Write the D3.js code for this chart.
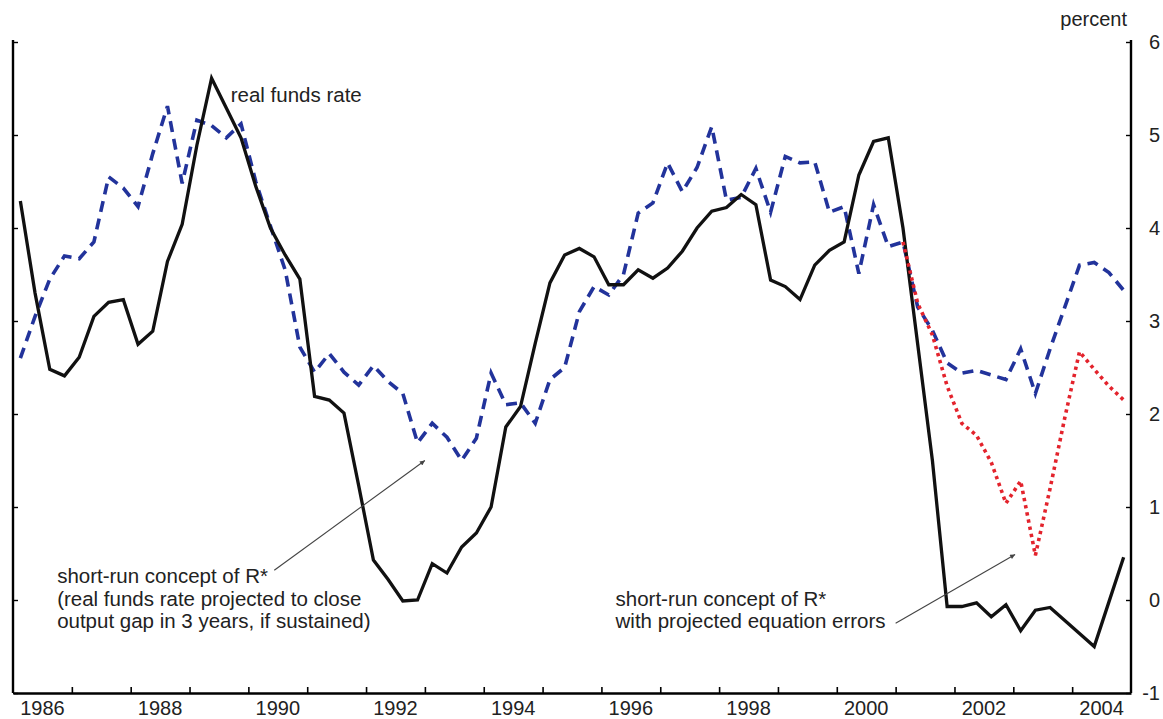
<!DOCTYPE html>
<html>
<head>
<meta charset="utf-8">
<title>real funds rate and short-run R*</title>
<script src="https://cdn.jsdelivr.net/npm/d3@7"></script>
<style>
  body { margin: 0; background: #fff; }
  text { font-family: "Liberation Sans", Arial, sans-serif; fill: #222; }
</style>
</head>
<body>
<div id="chart"></div>
<script>
// quarterly data, 1986Q1 .. 2004Q4
var firstYear = 1986;

var realFunds = [
  4.29, 3.30, 2.48, 2.41, 2.61, 3.05, 3.20, 3.23,   // 1986-87
  2.75, 2.89, 3.64, 4.04, 4.89, 5.61, 5.29, 4.97,   // 1988-89
  4.45, 4.00, 3.71, 3.45, 2.19, 2.15, 2.01, 1.23,   // 1990-91
  0.43, 0.22, -0.01, 0.00, 0.39, 0.29, 0.57, 0.72,  // 1992-93
  1.00, 1.86, 2.08, 2.76, 3.41, 3.71, 3.78, 3.69,   // 1994-95
  3.39, 3.39, 3.55, 3.46, 3.57, 3.75, 4.00, 4.18,   // 1996-97
  4.22, 4.36, 4.25, 3.44, 3.37, 3.23, 3.60, 3.76,   // 1998-99
  3.85, 4.57, 4.93, 4.97, 4.00, 2.75, 1.50, -0.07,  // 2000-01
  -0.07, -0.03, -0.18, -0.05, -0.33, -0.11, -0.08, -0.22, // 2002-03
  -0.36, -0.50, -0.02, 0.46                         // 2004
];

var rStar = [
  2.60, 3.05, 3.45, 3.70, 3.67, 3.85, 4.55, 4.43,
  4.23, 4.80, 5.31, 4.48, 5.16, 5.10, 4.97, 5.12,
  4.50, 4.02, 3.55, 2.72, 2.45, 2.65, 2.45, 2.31,
  2.52, 2.35, 2.22, 1.69, 1.90, 1.75, 1.50, 1.74,
  2.44, 2.10, 2.12, 1.90, 2.37, 2.50, 3.10, 3.37,
  3.28, 3.50, 4.16, 4.27, 4.70, 4.39, 4.65, 5.09,
  4.30, 4.33, 4.64, 4.17, 4.77, 4.70, 4.71, 4.17,
  4.23, 3.51, 4.25, 3.80, 3.85, 3.15, 2.90, 2.55,
  2.44, 2.47, 2.42, 2.37, 2.70, 2.22, 2.70, 3.15,
  3.60, 3.63, 3.52, 3.33
];

// with projected equation errors, 2000Q4 .. 2004Q4
var errStart = 60;
var rStarErr = [
  3.85, 3.19, 2.85, 2.30, 1.90, 1.77, 1.48, 1.04,
  1.28, 0.48, 1.20, 1.96, 2.67, 2.48, 2.30, 2.15
];

var yearTicks  = d3.range(1987, 2005);
var yearLabels = [1986, 1988, 1990, 1992, 1994, 1996, 1998, 2000, 2002, 2004];
var valueTicks = [-1, 0, 1, 2, 3, 4, 5, 6];

var width = 1163, height = 719;

var svg = d3.select("#chart").append("svg")
    .attr("width", width)
    .attr("height", height);

var x = d3.scaleLinear().domain([1986, 2005]).range([13, 1131]);
var y = d3.scaleLinear().domain([-1, 6]).range([693, 42]);

var qDate = function(i) { return firstYear + (i + 0.5) / 4; };

// axes
svg.append("g")
    .attr("transform", "translate(0,693)")
    .call(d3.axisBottom(x).tickValues(yearTicks).tickSize(-6).tickSizeOuter(0).tickFormat(""))
    .call(g => g.select(".domain").attr("stroke-width", 2.6))
    .call(g => g.selectAll(".tick line").attr("stroke-width", 1.6));

svg.append("g")
    .attr("transform", "translate(13,0)")
    .call(d3.axisRight(y).tickValues(valueTicks).tickSize(5).tickSizeOuter(0).tickFormat(""))
    .call(g => g.select(".domain").attr("stroke-width", 2.4).attr("d", "M0,40V693"))
    .call(g => g.selectAll(".tick line").attr("stroke-width", 1.4));

svg.append("g")
    .attr("transform", "translate(1131,0)")
    .call(d3.axisLeft(y).tickValues(valueTicks).tickSize(5).tickSizeOuter(0).tickFormat(""))
    .call(g => g.select(".domain").attr("stroke-width", 2.4).attr("d", "M0,40V693"))
    .call(g => g.selectAll(".tick line").attr("stroke-width", 1.4));

// tick labels
svg.selectAll(".xlab")
    .data(yearLabels)
    .enter().append("text")
    .attr("class", "xlab")
    .attr("x", d => x(d + 0.5))
    .attr("y", 715)
    .attr("text-anchor", "middle")
    .attr("font-size", "20px")
    .text(d => d);

svg.selectAll(".ylab")
    .data(valueTicks)
    .enter().append("text")
    .attr("class", "ylab")
    .attr("x", 1160)
    .attr("y", d => y(d) + 7)
    .attr("text-anchor", "end")
    .attr("font-size", "20px")
    .text(d => d);

svg.append("text")
    .attr("x", 1127)
    .attr("y", 26)
    .attr("text-anchor", "end")
    .attr("font-size", "20px")
    .text("percent");

// lines
var line = d3.line()
    .x(d => x(d[0]))
    .y(d => y(d[1]));

svg.append("path")
    .datum(rStar.map((v, i) => [qDate(i), v]))
    .attr("d", line)
    .attr("fill", "none")
    .attr("stroke", "#22339b")
    .attr("stroke-width", 3.6)
    .attr("stroke-dasharray", "11,7");

svg.append("path")
    .datum(realFunds.map((v, i) => [qDate(i), v]))
    .attr("d", line)
    .attr("fill", "none")
    .attr("stroke", "#111")
    .attr("stroke-width", 3.3)
    .attr("stroke-linejoin", "miter");

svg.append("path")
    .datum(rStarErr.map((v, i) => [qDate(errStart + i), v]))
    .attr("d", line)
    .attr("fill", "none")
    .attr("stroke", "#e3232c")
    .attr("stroke-width", 3.6)
    .attr("stroke-dasharray", "3.4,3.9");

// annotations
svg.append("defs").append("marker")
    .attr("id", "head")
    .attr("viewBox", "0 0 10 10")
    .attr("refX", 10).attr("refY", 5)
    .attr("markerWidth", 9).attr("markerHeight", 5)
    .attr("markerUnits", "userSpaceOnUse")
    .attr("orient", "auto")
    .append("path")
    .attr("d", "M0,0L10,5L0,10z")
    .attr("fill", "#444");

var arrows = [
  [[1990.44, 0.32], [1993.0, 1.50]],
  [[2001.0, -0.25], [2003.03, 0.49]]
];
svg.selectAll(".arrow")
    .data(arrows)
    .enter().append("line")
    .attr("class", "arrow")
    .attr("x1", d => x(d[0][0])).attr("y1", d => y(d[0][1]))
    .attr("x2", d => x(d[1][0])).attr("y2", d => y(d[1][1]))
    .attr("stroke", "#444")
    .attr("stroke-width", 1.1)
    .attr("marker-end", "url(#head)");

var notes = [
  { t: 1989.7,  v: 5.36, lines: ["real funds rate"] },
  { t: 1986.75, v: 0.18, lines: ["short-run concept of R*",
                                 "(real funds rate projected to close",
                                 "output gap in 3 years, if sustained)"] },
  { t: 1996.24, v: -0.06, lines: ["short-run concept of R*",
                                  "with projected equation errors"] }
];
notes.forEach(function(n) {
  var t = svg.append("text")
      .attr("x", x(n.t))
      .attr("y", y(n.v))
      .attr("font-size", "20.5px");
  n.lines.forEach(function(s, k) {
    t.append("tspan")
        .attr("x", x(n.t))
        .attr("dy", k === 0 ? 0 : 22.5)
        .text(s);
  });
});
</script>
</body>
</html>
